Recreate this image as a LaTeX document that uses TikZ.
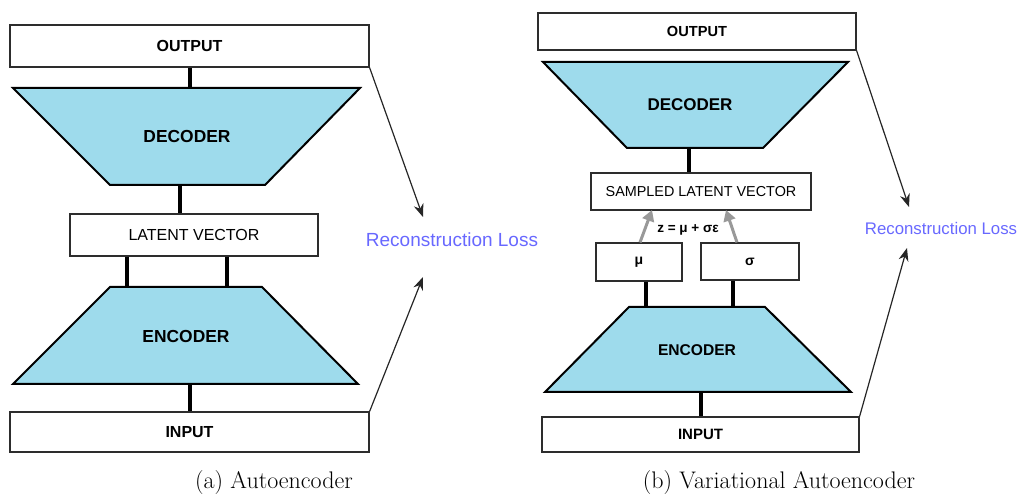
\documentclass[tikz,border=0pt]{standalone}
\usepackage{fontspec}
\newfontfamily\arial{Liberation Sans}
\usetikzlibrary{arrows.meta}
\definecolor{trapfill}{RGB}{158,219,236}
\definecolor{lossblue}{RGB}{104,104,255}
\definecolor{boxline}{RGB}{45,45,45}
\newcommand{\fs}[1]{\fontsize{#1}{#1}\selectfont}

\begin{document}
\begin{tikzpicture}[x=1pt,y=-1pt,
  box/.style={draw=boxline,line width=1.2pt,fill=white,inner sep=0pt,font=\arial},
  trap/.style={draw=black,line width=2pt,fill=trapfill,line join=miter},
  traplabel/.style={font=\arial\bfseries,inner sep=0pt},
  link/.style={line width=4.5pt,black},
  lossarrow/.style={draw=black!85,line width=1.2pt,-{Stealth[length=13pt,width=10pt]}},
  gaussarrow/.style={draw=gray!80,line width=3pt,-{Triangle[length=11pt,width=12pt]}},
  losslabel/.style={font=\arial,text=lossblue,inner sep=0pt},
  caption/.style={anchor=base,inner sep=0pt}]

\useasboundingbox (0,0) rectangle (1021,494);

% ---------------- (a) Autoencoder ----------------
\coordinate (decAtop) at (190,88);
\coordinate (decAbot) at (180,185);
\coordinate (encAl) at (127,287);
\coordinate (encAr) at (227,287);
\coordinate (encAbot) at (190,384);
\coordinate (lossAtop) at (423,217);
\coordinate (lossAbot) at (423,277);

\node[box,minimum width=359pt,minimum height=42pt,font=\arial\bfseries\fs{16}] (outA) at (189.5,46) {OUTPUT};
\node[box,minimum width=248pt,minimum height=42pt,font=\arial\fs{16}] (latA) at (194,235) {LATENT VECTOR};
\node[box,minimum width=359pt,minimum height=40pt,font=\arial\bfseries\fs{16}] (inA) at (189.5,432) {INPUT};

\draw[link] (outA.south -| decAtop) -- (decAtop);
\draw[link] (decAbot) -- (latA.north -| decAbot);
\draw[link] (latA.south -| encAl) -- (encAl);
\draw[link] (latA.south -| encAr) -- (encAr);
\draw[link] (encAbot) -- (inA.north -| encAbot);

\draw[trap] (13,88) -- (360,88) -- (265,185) -- (110,185) -- cycle;
\node[traplabel,font=\arial\bfseries\fs{17.4}] (decA) at (187,137) {DECODER};
\draw[trap] (110,287) -- (262,287) -- (358,384) -- (13,384) -- cycle;
\node[traplabel,font=\arial\bfseries\fs{17.4}] (encA) at (186,337) {ENCODER};

\node[losslabel,font=\arial\fs{19}] (lossA) at (452,240) {Reconstruction Loss};
\draw[lossarrow] (outA.south east) -- (lossAtop);
\draw[lossarrow] (inA.north east) -- (lossAbot);

\node[caption,font=\fs{24}] (capA) at (274,488) {(a) Autoencoder};

% ---------------- (b) Variational Autoencoder ----------------
\coordinate (decBbot) at (689,148);
\coordinate (muTop) at (640,243);
\coordinate (sgTop) at (737,243);
\coordinate (samMu) at (652,210);
\coordinate (samSg) at (726,210);
\coordinate (encBl) at (646,307);
\coordinate (encBr) at (733,307);
\coordinate (encBbot) at (701,392);
\coordinate (lossBtop) at (909,207);
\coordinate (lossBbot) at (907,248);

\node[box,minimum width=318pt,minimum height=37pt,font=\arial\bfseries\fs{14.6}] (outB) at (697,31.5) {OUTPUT};
\node[box,minimum width=220pt,minimum height=37pt,font=\arial\fs{14.4}] (samB) at (701,191.5) {SAMPLED LATENT VECTOR};
\node[box,minimum width=86pt,minimum height=38pt,font=\arial\bfseries\fs{14}] (muB) at (639,262) {μ};
\node[box,minimum width=98pt,minimum height=37pt,font=\arial\bfseries\fs{14}] (sgB) at (750,261.5) {σ};
\node[box,minimum width=317pt,minimum height=35pt,font=\arial\bfseries\fs{15}] (inB) at (700.5,434.5) {INPUT};

\draw[link] (decBbot) -- (samB.north -| decBbot);
\draw[link] (muB.south -| encBl) -- (encBl);
\draw[link] (sgB.south -| encBr) -- (encBr);
\draw[link] (encBbot) -- (inB.north -| encBbot);

\draw[gaussarrow] (muB.north -| muTop) -- (samMu);
\draw[gaussarrow] (sgB.north -| sgTop) -- (samSg);
\node[font=\arial\bfseries\fs{13.5},inner sep=0pt] (zeq) at (688,230) {z = μ + σε};

\draw[trap] (543,62) -- (848,62) -- (763,148) -- (627,148) -- cycle;
\node[traplabel,font=\arial\bfseries\fs{17}] (decB) at (690,105) {DECODER};
\draw[trap] (629,307) -- (765,307) -- (851,392) -- (545,392) -- cycle;
\node[traplabel,font=\arial\bfseries\fs{15.6}] (encB) at (697,350) {ENCODER};

\node[losslabel,font=\arial\fs{16.8}] (lossB) at (941,228) {Reconstruction Loss};
\draw[lossarrow] (outB.south east) -- (lossBtop);
\draw[lossarrow] (inB.north east) -- (lossBbot);

\node[caption,font=\fs{24}] (capB) at (779,488) {(b) Variational Autoencoder};
\end{tikzpicture}
\end{document}
